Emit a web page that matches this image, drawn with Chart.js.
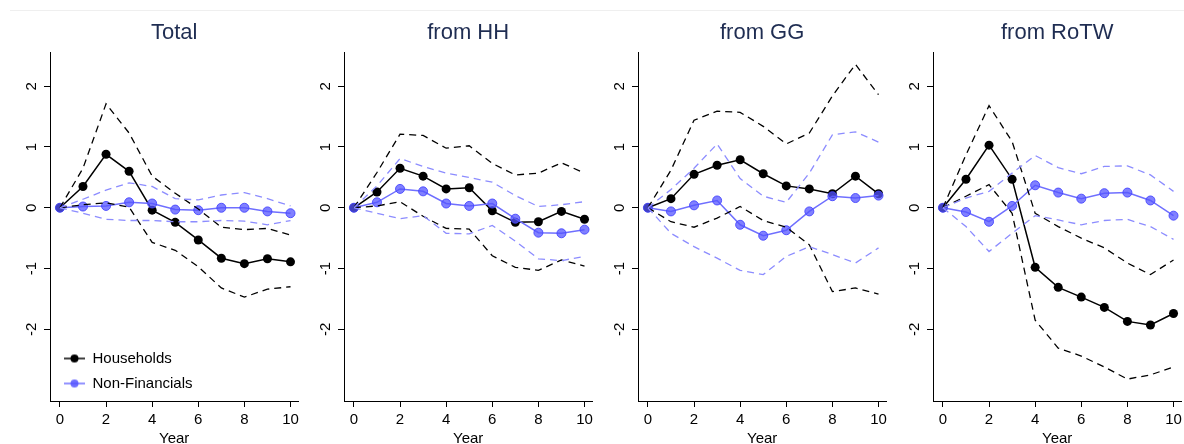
<!DOCTYPE html>
<html>
<head>
<meta charset="utf-8">
<script src="https://cdn.jsdelivr.net/npm/chart.js@4.4.1/dist/chart.umd.min.js"></script>
<style>
  html, body { margin: 0; padding: 0; background: #fff; }
  #wrap { position: relative; width: 1184px; height: 444px; overflow: hidden; }
  #topline { position: absolute; left: 10px; top: 10px; width: 1174px; height: 1px; background: #efefef; }
  canvas { position: absolute; top: 0; }
</style>
</head>
<body>
<div id="wrap">
  <div id="topline"></div>
  <canvas id="c0" width="303" height="450" style="left:0px"></canvas>
  <canvas id="c1" width="303" height="450" style="left:294px"></canvas>
  <canvas id="c2" width="303" height="450" style="left:588px"></canvas>
  <canvas id="c3" width="303" height="450" style="left:883px"></canvas>
</div>
<script>
var years = [0, 1, 2, 3, 4, 5, 6, 7, 8, 9, 10];
var xTicks = [0, 2, 4, 6, 8, 10];
var yTicks = [-2, -1, 0, 1, 2];
var panelTitles = ['Total', 'from HH', 'from GG', 'from RoTW'];
var seriesNames = ['Households', 'Non-Financials'];

// Total
var totHH   = [0, 0.35, 0.88, 0.60, -0.04, -0.24, -0.53, -0.83, -0.92, -0.84, -0.89];
var totHHHi = [0, 0.65, 1.71, 1.23, 0.52, 0.24, -0.02, -0.32, -0.36, -0.34, -0.45];
var totHHLo = [0, 0.05, 0.08, 0.01, -0.57, -0.70, -0.97, -1.32, -1.47, -1.34, -1.30];
var totNF   = [0, 0.02, 0.03, 0.09, 0.07, -0.03, -0.04, 0.00, 0.00, -0.06, -0.09];
var totNFHi = [0, 0.14, 0.29, 0.41, 0.35, 0.15, 0.13, 0.21, 0.25, 0.15, 0.03];
var totNFLo = [0, -0.09, -0.19, -0.21, -0.21, -0.23, -0.23, -0.21, -0.22, -0.28, -0.21];

// from HH
var hhHH   = [0, 0.26, 0.65, 0.52, 0.31, 0.33, -0.05, -0.24, -0.23, -0.06, -0.19];
var hhHHHi = [0, 0.58, 1.21, 1.19, 0.98, 1.02, 0.73, 0.54, 0.57, 0.74, 0.57];
var hhHHLo = [0, 0.03, 0.10, -0.14, -0.34, -0.35, -0.79, -0.98, -1.03, -0.86, -0.96];
var hhNF   = [0, 0.09, 0.31, 0.27, 0.07, 0.03, 0.07, -0.18, -0.41, -0.42, -0.36];
var hhNFHi = [0, 0.36, 0.81, 0.68, 0.57, 0.50, 0.42, 0.20, 0.02, 0.05, 0.10];
var hhNFLo = [0, -0.09, -0.18, -0.13, -0.42, -0.43, -0.29, -0.55, -0.84, -0.87, -0.80];

// from GG
var ggHH   = [0, 0.15, 0.55, 0.70, 0.79, 0.56, 0.36, 0.31, 0.23, 0.52, 0.23];
var ggHHHi = [0, 0.62, 1.44, 1.59, 1.57, 1.34, 1.05, 1.23, 1.84, 2.36, 1.86];
var ggHHLo = [0, -0.23, -0.32, -0.17, 0.02, -0.21, -0.32, -0.61, -1.38, -1.32, -1.42];
var ggNF   = [0, -0.06, 0.04, 0.12, -0.28, -0.46, -0.37, -0.06, 0.19, 0.16, 0.20];
var ggNFHi = [0, 0.30, 0.65, 1.05, 0.48, 0.19, 0.09, 0.57, 1.20, 1.25, 1.08];
var ggNFLo = [0, -0.42, -0.64, -0.83, -1.03, -1.10, -0.80, -0.64, -0.77, -0.91, -0.66];

// from RoTW
var rwHH   = [0, 0.47, 1.03, 0.47, -0.98, -1.31, -1.47, -1.64, -1.87, -1.93, -1.74];
var rwHHHi = [0, 0.87, 1.68, 1.09, -0.09, -0.31, -0.50, -0.66, -0.91, -1.10, -0.86];
var rwHHLo = [0, 0.19, 0.38, -0.09, -1.85, -2.31, -2.44, -2.62, -2.82, -2.75, -2.62];
var rwNF   = [0, -0.07, -0.23, 0.03, 0.37, 0.25, 0.15, 0.24, 0.25, 0.12, -0.13];
var rwNFHi = [0, 0.16, 0.27, 0.57, 0.86, 0.66, 0.56, 0.68, 0.69, 0.54, 0.27];
var rwNFLo = [0, -0.31, -0.72, -0.42, -0.13, -0.20, -0.28, -0.21, -0.19, -0.31, -0.52];

var panels = [
  [totHH, totHHHi, totHHLo, totNF, totNFHi, totNFLo],
  [hhHH, hhHHHi, hhHHLo, hhNF, hhNFHi, hhNFLo],
  [ggHH, ggHHHi, ggHHLo, ggNF, ggNFHi, ggNFLo],
  [rwHH, rwHHHi, rwHHLo, rwNF, rwNFHi, rwNFLo]
];

var BLACK = '#000000';
var BLUE_LINE = '#6f6fff';
var BLUE_DASH = '#8c8cff';
var BLUE_PT = 'rgba(85,85,255,0.75)';
var BLUE_PT_EDGE = 'rgba(70,70,255,0.9)';

Chart.defaults.font.family = "'Liberation Sans', Arial, Helvetica, sans-serif";
Chart.defaults.color = '#000';

function pts(arr) {
  return arr.map(function(v, i) { return {x: years[i], y: v}; });
}

function legendIcon(lineCol, dotCol) {
  var c = document.createElement('canvas');
  c.width = 21; c.height = 10;
  var g = c.getContext('2d');
  g.strokeStyle = lineCol; g.lineWidth = 1.5;
  g.beginPath(); g.moveTo(0, 5); g.lineTo(21, 5); g.stroke();
  g.fillStyle = dotCol;
  g.beginPath(); g.arc(10.5, 5, 4, 0, Math.PI * 2); g.fill();
  return c;
}

var icons = [legendIcon(BLACK, BLACK), legendIcon(BLUE_LINE, 'rgba(85,85,255,0.85)')];

// put the legend in the lower left corner of the first plot
var legendPlace = {
  id: 'legendPlace',
  afterLayout: function(chart) {
    var lg = chart.legend;
    if (!lg || !chart.options.plugins.legend.display) return;
    lg.left = 54;
    lg.right = 260;
    lg.top = 341;
    lg.bottom = 445;
  }
};

function dashSet(arr, col) {
  return {data: pts(arr), borderColor: col, borderWidth: 1.3, borderDash: [7, 5],
          pointRadius: 0, tension: 0, fill: false};
}

function buildPanel(idx) {
  var p = panels[idx];
  new Chart(document.getElementById('c' + idx), {
    type: 'line',
    data: {
      datasets: [
        dashSet(p[4], BLUE_DASH),
        dashSet(p[5], BLUE_DASH),
        dashSet(p[1], BLACK),
        dashSet(p[2], BLACK),
        {label: seriesNames[1], data: pts(p[3]), borderColor: BLUE_LINE, borderWidth: 1.5,
         pointRadius: 4.5, pointBackgroundColor: BLUE_PT, pointBorderColor: BLUE_PT_EDGE,
         pointBorderWidth: 1, tension: 0},
        {label: seriesNames[0], data: pts(p[0]), borderColor: BLACK, borderWidth: 1.5,
         pointRadius: 4.5, pointBackgroundColor: BLACK, pointBorderWidth: 0, tension: 0}
      ]
    },
    options: {
      responsive: false,
      animation: false,
      events: [],
      layout: {padding: 0, autoPadding: false},
      plugins: {
        title: {
          display: true, text: panelTitles[idx], fullSize: false, color: '#1f2d52',
          font: {size: 22, weight: 'normal'}, padding: {top: 20, bottom: 6.4}
        },
        legend: {
          display: idx === 0,
          position: 'chartArea',
          align: 'start',
          labels: {
            usePointStyle: true, pointStyleWidth: 21, padding: 10,
            font: {size: 15}, color: '#000',
            generateLabels: function() {
              return seriesNames.map(function(n, i) {
                return {text: n, pointStyle: icons[i], fillStyle: BLACK, strokeStyle: BLACK,
                        lineWidth: 0, hidden: false, fontColor: '#000'};
              });
            }
          }
        },
        tooltip: {enabled: false}
      },
      scales: {
        x: {
          type: 'linear', min: -0.43, max: 10.34,
          afterBuildTicks: function(s) { s.ticks = xTicks.map(function(v) { return {value: v}; }); },
          afterFit: function(s) { s.height = 49; },
          grid: {display: true, drawOnChartArea: false, drawTicks: true, tickLength: 6, color: BLACK},
          border: {display: true, color: BLACK, width: 1},
          ticks: {font: {size: 15}, color: BLACK, padding: 4, maxRotation: 0, autoSkip: false,
                  callback: function(v) { return String(v); }},
          title: {display: true, text: 'Year', color: BLACK, font: {size: 15}, padding: {top: 0, bottom: 2}}
        },
        y: {
          type: 'linear', min: -3.18, max: 2.55,
          afterBuildTicks: function(s) { s.ticks = yTicks.map(function(v) { return {value: v}; }); },
          afterFit: function(s) { s.width = 50; },
          grid: {display: true, drawOnChartArea: false, drawTicks: true, tickLength: 6, color: BLACK},
          border: {display: true, color: BLACK, width: 1},
          ticks: {font: {size: 15}, color: BLACK, padding: 5, minRotation: 90, maxRotation: 90,
                  crossAlign: 'center', autoSkip: false,
                  callback: function(v) { return String(v); }}
        }
      }
    },
    plugins: [legendPlace]
  });
}

for (var i = 0; i < panels.length; i++) buildPanel(i);
</script>
</body>
</html>
